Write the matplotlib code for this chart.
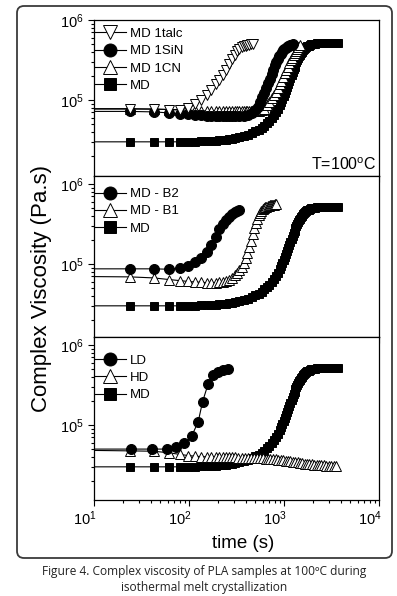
import numpy as np
import matplotlib
matplotlib.use("Agg")
import matplotlib.pyplot as plt
from matplotlib.patches import FancyBboxPatch
from matplotlib.transforms import IdentityTransform, ScaledTranslation

plt.rcParams['font.family'] = ['Liberation Sans', 'DejaVu Sans']
plt.rcParams['mathtext.fontset'] = 'custom'
plt.rcParams['mathtext.rm'] = 'Liberation Sans'
plt.rcParams['mathtext.it'] = 'Liberation Sans:italic'
plt.rcParams['mathtext.bf'] = 'Liberation Sans:bold'

# time (s) and complex viscosity (x 1e4 Pa.s)
t_md = [5.5, 24, 42.5, 61, 79.5, 98, 116.5, 135, 153.5, 172,
        190.5, 209, 227.5, 246, 264.5, 283, 301.5, 340, 380, 420,
        460, 500, 540, 580, 620, 660, 700, 740, 780, 820,
        860, 900, 930, 960, 990, 1020, 1050, 1080, 1110, 1140,
        1170, 1200, 1230, 1260, 1290, 1320, 1350, 1380, 1410, 1440,
        1470, 1500, 1540, 1580, 1620, 1660, 1700, 1760, 1820, 1880,
        1940, 2000, 2100, 2200, 2300, 2400, 2500, 2650, 2800, 2950,
        3100, 3250, 3400, 3550, 3700]
v_md = [3.0, 3.0, 3.0, 3.0, 3.0, 3.0, 3.02, 3.04, 3.06, 3.08,
        3.1, 3.13, 3.16, 3.2, 3.24, 3.28, 3.33, 3.43, 3.55, 3.7,
        3.87, 4.05, 4.27, 4.52, 4.8, 5.12, 5.5, 5.95, 6.45, 7.05,
        7.75, 8.6, 9.35, 10.2, 11.1, 12.1, 13.2, 14.5, 15.9, 17.4,
        19.0, 20.7, 22.5, 24.3, 26.2, 28.1, 30.0, 31.8, 33.6, 35.3,
        36.9, 38.4, 40.2, 41.8, 43.2, 44.4, 45.5, 46.8, 47.9, 48.8,
        49.5, 50.0, 50.6, 51.0, 51.2, 51.4, 51.5, 51.5, 51.5, 51.5,
        51.5, 51.5, 51.5, 51.5, 51.5]

t_talc = [5.5, 24, 42.5, 61, 79.5, 98, 116.5, 135, 153.5, 172,
          190.5, 209, 227.5, 246, 264.5, 283, 301.5, 320, 338.5, 357,
          375.5, 394, 412.5, 431, 449.5, 468]
v_talc = [7.7, 7.7, 7.7, 7.6, 7.6, 7.9, 8.8, 10.0, 11.5, 13.5,
          15.8, 18.0, 20.5, 24.0, 28.5, 33.0, 37.0, 40.5, 43.5, 45.5,
          47.0, 48.0, 48.8, 49.4, 49.8, 50.0]

t_sin = [5.5, 24, 42.5, 61, 79.5, 98, 116.5, 135, 153.5, 172,
         190.5, 209, 227.5, 246, 264.5, 283, 301.5, 340, 380, 420,
         460, 500, 530, 560, 590, 620, 650, 680, 710, 740,
         770, 800, 830, 860, 890, 920, 950, 980, 1010, 1040,
         1070, 1100, 1130, 1160, 1190, 1220, 1250]
v_sin = [7.2, 7.2, 7.1, 6.9, 6.7, 6.6, 6.5, 6.45, 6.4, 6.35,
         6.3, 6.3, 6.3, 6.3, 6.3, 6.3, 6.3, 6.35, 6.4, 6.5,
         6.8, 7.4, 8.2, 9.4, 10.8, 12.4, 14.2, 16.2, 18.5, 21.0,
         24.0, 27.0, 30.0, 33.0, 35.5, 38.0, 40.0, 42.0, 43.5, 45.0,
         46.0, 47.0, 47.8, 48.5, 49.0, 49.3, 49.5]

t_cn = [5.5, 24, 42.5, 61, 79.5, 98, 116.5, 135, 153.5, 172,
        190.5, 209, 227.5, 246, 264.5, 283, 301.5, 320, 338.5, 357,
        375.5, 394, 412.5, 431, 449.5, 468, 500, 540, 580, 620,
        660, 700, 740, 780, 820, 860, 900, 940, 980, 1020,
        1060, 1100, 1140, 1180, 1220, 1260, 1300, 1340, 1380, 1420,
        1460]
v_cn = [7.8, 7.8, 7.7, 7.6, 7.5, 7.45, 7.4, 7.35, 7.3, 7.3,
        7.3, 7.3, 7.3, 7.3, 7.3, 7.3, 7.3, 7.3, 7.3, 7.3,
        7.3, 7.3, 7.3, 7.3, 7.3, 7.3, 7.3, 7.35, 7.5, 7.8,
        8.6, 9.5, 10.5, 11.5, 12.7, 14.2, 15.8, 17.5, 19.5, 21.5,
        23.8, 26.2, 28.8, 31.2, 33.8, 36.2, 38.8, 41.5, 44.0, 46.5,
        48.5]

t_b2 = [5.5, 24, 42.5, 61, 79.5, 98, 116.5, 135, 153.5, 172,
        190.5, 209, 227.5, 246, 264.5, 283, 301.5, 320, 338.5]
v_b2 = [8.7, 8.7, 8.7, 8.6, 8.9, 9.4, 10.7, 11.8, 14.3, 17.3,
        21.9, 27.1, 32.0, 35.5, 39.0, 42.5, 45.0, 46.5, 47.3]

t_b1 = [5.5, 24, 42.5, 61, 79.5, 98, 116.5, 135, 153.5, 172,
        190.5, 209, 227.5, 246, 264.5, 283, 301.5, 320, 338.5, 357,
        375.5, 394, 412.5, 431, 449.5, 468, 486.5, 505, 523.5, 542,
        560.5, 579, 597.5, 616, 634.5, 653, 671.5, 690, 708.5, 727,
        745.5, 764, 782.5, 801, 819.5]
v_b1 = [7.0, 6.9, 6.7, 6.4, 6.2, 6.05, 5.95, 5.9, 5.85, 5.85,
        5.85, 5.9, 5.95, 6.1, 6.35, 6.7, 7.2, 7.8, 8.5, 9.3,
        10.4, 11.8, 13.8, 16.2, 19.5, 23.5, 28.0, 32.5, 37.0, 41.0,
        44.0, 46.5, 48.5, 50.0, 51.2, 52.2, 53.0, 53.7, 54.2, 54.6,
        55.0, 55.2, 55.4, 55.5, 55.5]

t_ld = [5.5, 24.5, 41, 58, 73, 89, 107, 125, 139, 159, 180, 204, 230, 255]
v_ld = [5.0, 5.0, 5.0, 5.0, 5.3, 5.9, 7.3, 11.0, 19.6, 32.6, 42.0, 46.4, 48.7, 49.7]

t_hd = [5.5, 24, 42.5, 61, 79.5, 98, 116.5, 135, 153.5, 172,
        190.5, 209, 227.5, 246, 264.5, 283, 301.5, 330, 360, 390,
        420, 450, 480, 520, 560, 600, 640, 680, 720, 770,
        820, 870, 920, 980, 1040, 1100, 1170, 1240, 1310, 1390,
        1470, 1560, 1650, 1750, 1850, 1960, 2080, 2200, 2330, 2470,
        2620, 2780, 2950, 3130, 3320, 3500]
v_hd = [4.85, 4.75, 4.7, 4.5, 4.3, 4.15, 4.07, 4.02, 4.0, 4.0,
        3.98, 3.97, 3.96, 3.95, 3.95, 3.94, 3.93, 3.92, 3.91, 3.9,
        3.89, 3.88, 3.87, 3.86, 3.85, 3.83, 3.81, 3.79, 3.77, 3.74,
        3.71, 3.68, 3.65, 3.62, 3.58, 3.55, 3.51, 3.47, 3.43, 3.4,
        3.36, 3.33, 3.3, 3.27, 3.24, 3.22, 3.2, 3.18, 3.16, 3.14,
        3.12, 3.11, 3.1, 3.09, 3.08, 3.07]

# (label, t, v, marker, filled) in legend order, per panel
panels = [
    [("MD 1talc", t_talc, v_talc, 'v', False),
     ("MD 1SiN", t_sin, v_sin, 'o', True),
     ("MD 1CN", t_cn, v_cn, '^', False),
     ("MD", t_md, v_md, 's', True)],
    [("MD - B2", t_b2, v_b2, 'o', True),
     ("MD - B1", t_b1, v_b1, '^', False),
     ("MD", t_md, v_md, 's', True)],
    [("LD", t_ld, v_ld, 'o', True),
     ("HD", t_hd, v_hd, '^', False),
     ("MD", t_md, v_md, 's', True)],
]
msize = {'o': 7.2, 's': 6.3, '^': 7.4, 'v': 7.4}

W, H = 397, 596
fig = plt.figure(figsize=(W / 100, H / 100), dpi=100)

# outer rounded frame (pixels)
frame = FancyBboxPatch((17, H - 558), 375, 552, boxstyle="round,pad=0,rounding_size=7",
                       transform=IdentityTransform(), fc='none', ec='#3a3a3a', lw=1.3)
fig.add_artist(frame)

# panel boxes in pixels: (top, bottom), and y-limits
boxes = [(20, 176), (176, 337), (337, 500)]
ylims = [(1.122e4, 1.0e6), (1.223e4, 1.259e6), (1.155e4, 1.259e6)]
leg_y = [0.958, 0.934, 0.90]
ax_l, ax_r = 94, 379

for i, (series, (top, bot)) in enumerate(zip(panels, boxes)):
    ax = fig.add_axes([ax_l / W, 1 - bot / H, (ax_r - ax_l) / W, (bot - top) / H])
    ax.set_xscale('log')
    ax.set_yscale('log')
    handles = {}
    for label, t, v, mk, filled in reversed(series):
        h, = ax.plot(t, np.array(v) * 1e4, color='black', lw=0.8, marker=mk,
                     ms=msize[mk], mfc='black' if filled else 'white',
                     mec='black', mew=0.7, label=label)
        handles[label] = h
    ax.set_xlim(10, 1e4)
    ax.set_ylim(*ylims[i])
    for s in ax.spines.values():
        s.set_linewidth(0.9)
    ax.tick_params(which='both', direction='out', top=False, right=False,
                   width=0.8, labelsize=10.5)
    ax.tick_params(which='major', length=4.5)
    ax.tick_params(which='minor', length=2.4)
    ax.tick_params(axis='y', pad=3.2)
    ax.tick_params(axis='x', pad=2.5)
    ax.yaxis.set_minor_formatter(plt.NullFormatter())
    ax.xaxis.set_minor_formatter(plt.NullFormatter())
    if i < 2:
        ax.tick_params(axis='x', labelbottom=False)
    else:
        off = ScaledTranslation(-9 / 100, 0, fig.dpi_scale_trans)
        for lab in ax.xaxis.get_majorticklabels():
            lab.set_transform(lab.get_transform() + off)
    ax.legend([handles[s[0]] for s in series], [s[0] for s in series],
              loc='upper left', bbox_to_anchor=(0.0, leg_y[i]), frameon=False,
              fontsize=9.5, handlelength=2.3, handletextpad=0.3, labelspacing=0.38,
              borderpad=0.1, borderaxespad=0, markerscale=1.3, numpoints=1)
    if i == 0:
        ax.text(0.99, 0.07, r'T=100$^{\mathrm{o}}$C', transform=ax.transAxes,
                ha='right', va='center', fontsize=11.5)

fig.text(42 / W, 1 - 288 / H, 'Complex Viscosity (Pa.s)', rotation=90,
         ha='center', va='center', fontsize=16)
fig.text(243 / W, 1 - 543 / H, 'time (s)', ha='center', va='center', fontsize=13.5)

fig.text(204 / W, 1 - 572 / H, 'Figure 4. Complex viscosity of PLA samples at 100ºC during',
         ha='center', va='center', fontsize=8.6, color='#222222',
         family=['Open Sans', 'DejaVu Sans'])
fig.text(204 / W, 1 - 588 / H, 'isothermal melt crystallization',
         ha='center', va='center', fontsize=8.6, color='#222222',
         family=['Open Sans', 'DejaVu Sans'])

fig.savefig('out.png', dpi=100)
